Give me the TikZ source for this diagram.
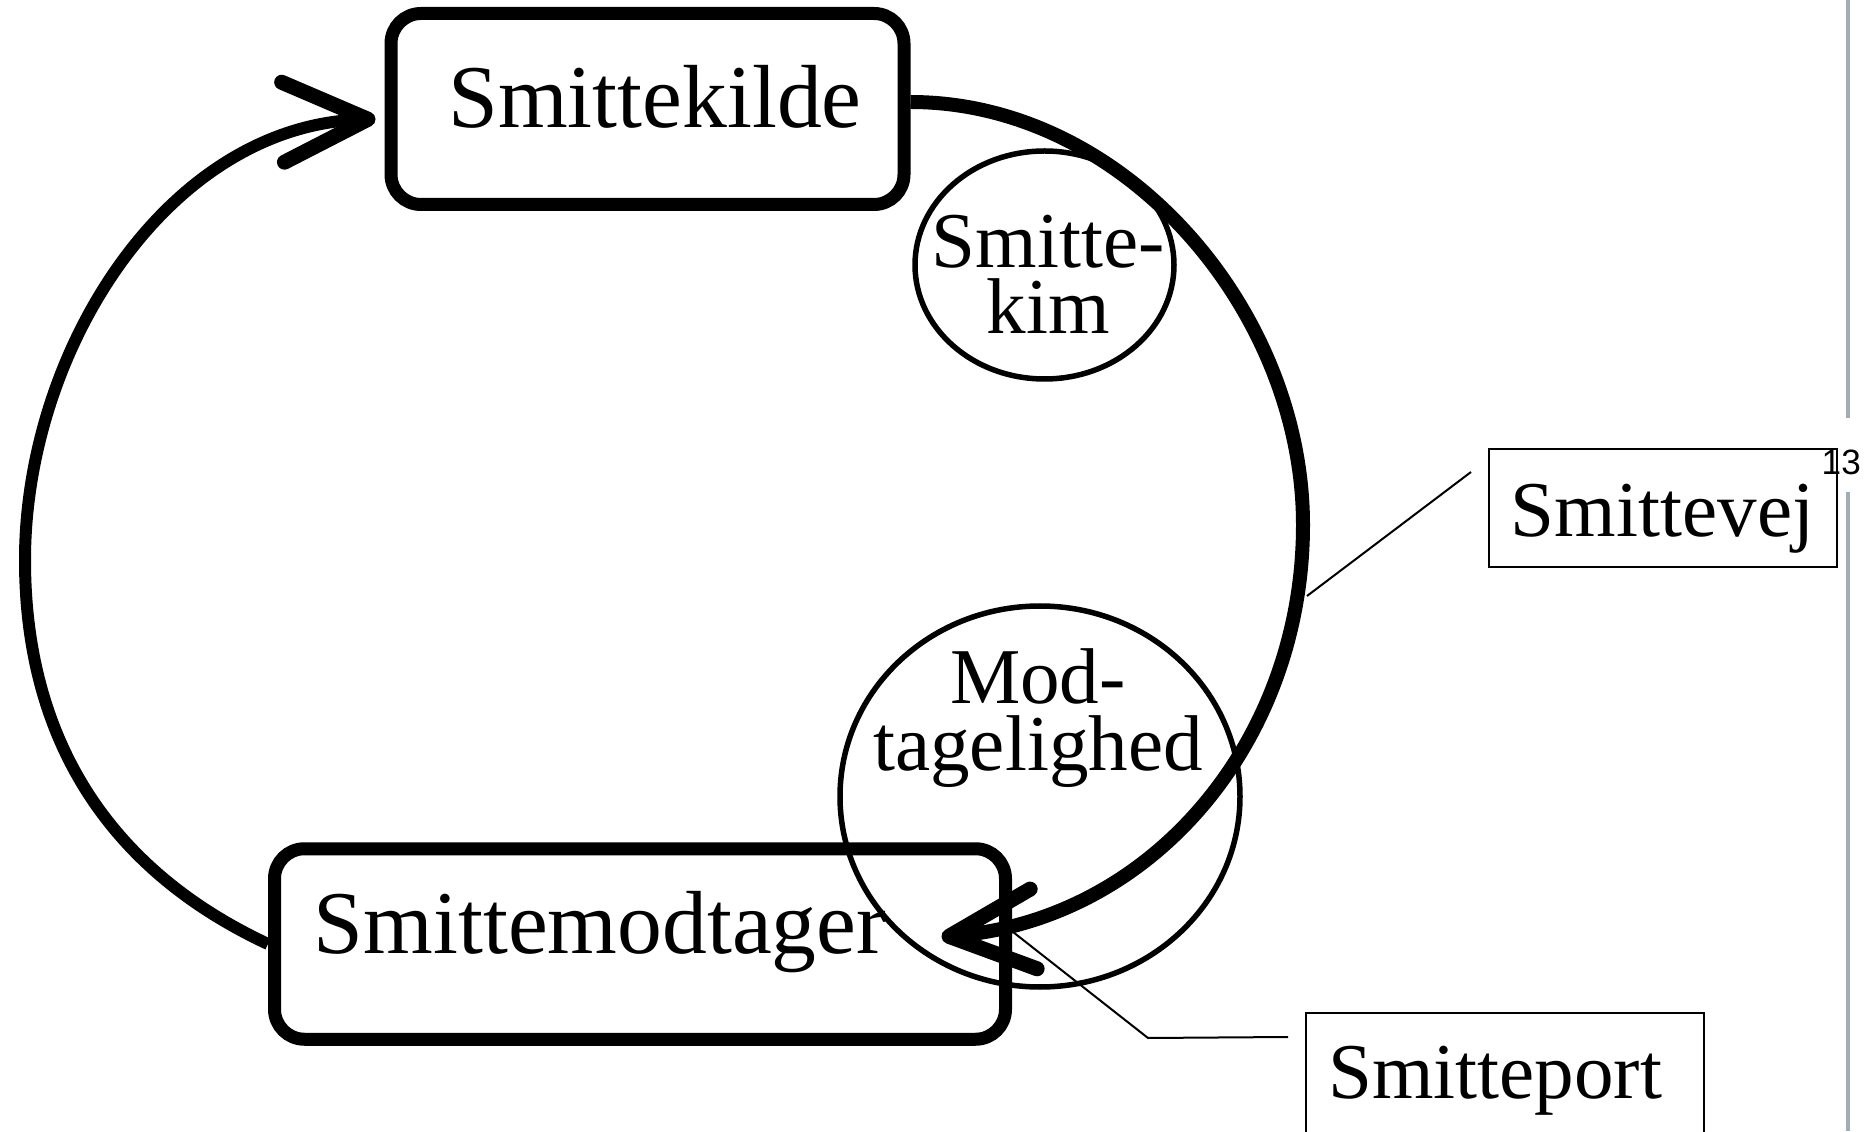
\documentclass[tikz,border=0pt]{standalone}
\usepackage{fontspec}
\setmainfont{Liberation Serif}
\newfontfamily\pagefont{Liberation Sans}
\usetikzlibrary{arrows.meta,shapes.geometric}

\definecolor{marginline}{RGB}{162,172,180}

\tikzset{
  infobox/.style={draw, line width=0.13cm, rounded corners=0.3cm, inner sep=0pt, minimum height=1.91cm},
  boxtext/.style={font=\fontsize{25.5}{30}\selectfont, inner sep=0pt, anchor=base},
  factor/.style={draw, ellipse, line width=0.055cm, inner sep=0pt},
  factortext/.style={font=\fontsize{22.5}{19}\selectfont, align=center, inner sep=0pt, anchor=north},
  notebox/.style={draw, line width=0.02cm, inner sep=0pt},
  notetext/.style={font=\fontsize{22.5}{27}\selectfont, inner sep=0pt, anchor=base},
  pointer/.style={line width=0.02cm},
  cyclearrow/.style={line width=0.12cm, -{Straight Barb[length=0.85cm, width=0.8cm, line width=0.15cm, round]}}
}

\begin{document}
\begin{tikzpicture}
				\useasboundingbox (0,0) rectangle (18.7,11.31);
				\clip (0,0) rectangle (18.7,11.31);
				
				% Source and receiver
				\node[infobox, minimum width=5.13cm] (kilde) at (6.475,10.22) {};
				\node[boxtext] (kildetxt) at (6.55,10.03) {Smittekilde};
				
				\node[infobox, minimum width=7.31cm, minimum height=1.905cm] (modtager) at (6.40,1.87) {};
				\node[boxtext] (modtagertxt) at (6.00,1.78) {Smittemodtager};
				
				% Ellipses on the way round
				\node[factor, minimum width=2.59cm, minimum height=2.28cm] (kim) at (10.445,8.66) {};
				\node[factortext] (kimtxt) at (10.48,9.17) {Smitte-\\kim};
				
				\node[factor, minimum width=4.00cm, minimum height=3.81cm] (modt) at (10.40,3.345) {};
				\node[factortext] (modttxt) at (10.38,4.83) {Mod-\\tagelighed};
				
				% Notes on the right
				\node[notebox, minimum width=3.48cm, minimum height=1.18cm] (vej) at (16.63,6.23) {};
				\node[notetext] (vejtxt) at (16.625,5.94) {Smittevej};
				
				\node[notebox, minimum width=3.98cm, minimum height=1.5cm] (port) at (15.05,0.43) {};
				\node[notetext] (porttxt) at (14.95,0.33) {Smitteport};
				
				% The cycle
				\coordinate (eastturn) at (13.03,6.06);
				\coordinate (westturn) at (0.25,5.71);
				\draw[cyclearrow, line width=0.14cm] ([yshift=0.07cm]kilde.east) to[out=0,in=90,looseness=0.95] (eastturn)
					to[out=-90,in=5] ([shift={(-0.705,0.07)}]modtager.east);
				\draw[cyclearrow] (modtager.west) to[out=155,in=-90] (westturn)
					to[out=90,in=182,looseness=0.95] ([shift={(-0.09,-0.10)}]kilde.west);
				
				% Pointer lines
				\coordinate (vejtip) at (13.07,5.35);
				\draw[pointer] (vejtip) -- ([shift={(-0.17,-0.24)}]vej.north west);
				\coordinate (porttip) at (10.13,1.99);
				\coordinate (portknee) at (11.48,0.93);
				\draw[pointer] (porttip) -- (portknee) -- ([shift={(-0.17,-0.25)}]port.north west);
				
				% Page margin and number
				\node[font=\pagefont\fontsize{10}{12}\selectfont, inner sep=0pt, anchor=base west] (pageno) at (18.21,6.56) {13};
				\draw[marginline, line width=0.04cm] (18.48,11.31) -- (18.48,7.13) (18.48,6.39) -- (18.48,0);
			\end{tikzpicture}
\end{document}
